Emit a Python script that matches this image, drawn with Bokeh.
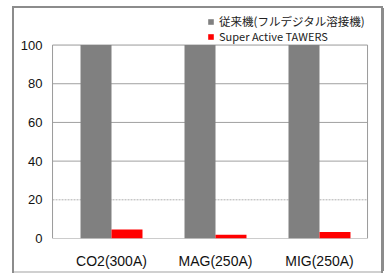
from bokeh.plotting import figure
from bokeh.models import Range1d, Legend, LegendItem, FixedTicker, BoxAnnotation
from bokeh.transform import dodge
from bokeh.embed import file_html
from bokeh.resources import INLINE

categories = ["CO2(300A)", "MAG(250A)", "MIG(250A)"]
conventional = [100, 100, 100]
tawers = [4.7, 1.9, 3.4]
series_names = ["従来機(フルデジタル溶接機)", "Super Active TAWERS"]
y_ticks = [0, 20, 40, 60, 80, 100]
grid_solid = [40, 60, 80]
grid_dotted = [20]
y_max = 100

idx = list(range(len(categories)))
box_left, box_right = -0.567, 2.462

p = figure(width=367, height=263, x_range=Range1d(-0.577, 2.577),
           y_range=Range1d(0, 118.9), output_backend="svg", toolbar_location=None,
           min_border_left=37, min_border_right=2, min_border_top=0, min_border_bottom=30)
p.background_fill_color = "white"
p.border_fill_color = "white"
p.outline_line_color = None
p.styles = {
    "margin-left": "14px",
    "margin-top": "8px",
    "box-shadow": "0 2px 0 0 #d0d0d0, 0 0 0 2px #8c8c8c, 3px 0 0 0 #8c8c8c",
}
p.xgrid.visible = False
p.ygrid.visible = False

# plot-area border and grid lines
p.add_layout(BoxAnnotation(left=box_left, right=box_right, bottom=0, top=y_max,
                           fill_alpha=0, line_color="#9a9a9a", line_alpha=1.0,
                           line_width=1, level="underlay"))
p.segment(x0=[box_left] * len(grid_solid), x1=[box_right] * len(grid_solid),
          y0=grid_solid, y1=grid_solid, line_color="#a0a0a0", line_width=1, level="underlay")
p.segment(x0=[box_left] * len(grid_dotted), x1=[box_right] * len(grid_dotted),
          y0=grid_dotted, y1=grid_dotted, line_color="#b0b0b0", line_width=1,
          line_dash="2 1", level="underlay")

src = dict(idx=idx, a=conventional, b=tawers)
r1 = p.vbar(x=dodge("idx", -0.149), top="a", width=0.298, source=src,
            fill_color="#808080", line_color=None)
r2 = p.vbar(x=dodge("idx", 0.149), top="b", width=0.298, source=src,
            fill_color="#ff0000", line_color=None)

p.xaxis.ticker = FixedTicker(ticks=idx)
p.xaxis.major_label_overrides = {i: c for i, c in zip(idx, categories)}
p.yaxis.ticker = FixedTicker(ticks=y_ticks)
for ax in (p.xaxis, p.yaxis):
    ax.axis_line_color = None
    ax.major_tick_line_color = None
    ax.minor_tick_line_color = None
    ax.major_label_text_font = "Liberation Sans"
    ax.major_label_text_color = "#111111"
p.yaxis.major_label_text_font_size = "13px"
p.yaxis.major_label_standoff = 3
p.xaxis.major_label_text_font_size = "14px"
p.xaxis.major_label_standoff = 8

common = dict(orientation="vertical", glyph_width=7, glyph_height=7, label_standoff=5,
              label_height=15, spacing=0, padding=0, margin=0,
              label_text_font="Noto Sans CJK JP", label_text_color="#222222",
              border_line_color=None, background_fill_alpha=0)
legend1 = Legend(items=[LegendItem(label=series_names[0], renderers=[r1])],
                 location=(156, 209), label_text_font_size="11.5px", **common)
legend2 = Legend(items=[LegendItem(label=series_names[1], renderers=[r2])],
                 location=(156, 194), label_text_font_size="11px", **common)
p.add_layout(legend1, "center")
p.add_layout(legend2, "center")

open("out.html", "w").write(file_html(p, INLINE))
